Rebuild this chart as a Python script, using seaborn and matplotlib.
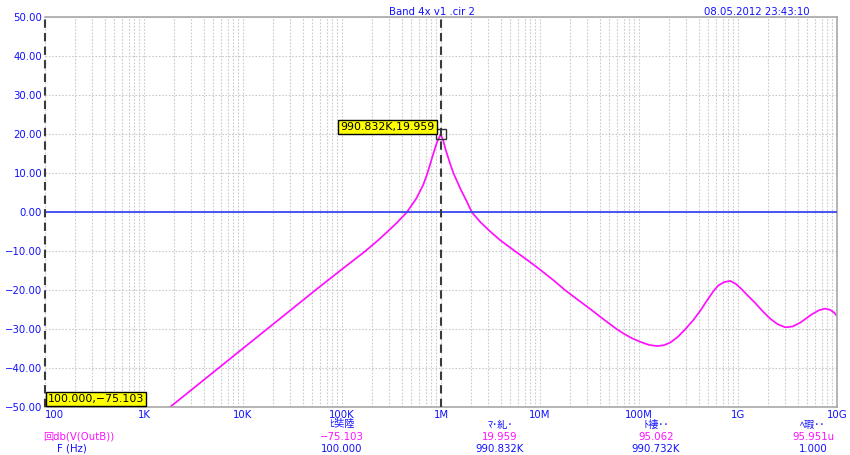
import matplotlib
matplotlib.use("Agg")
import matplotlib.pyplot as plt
import seaborn as sns
import pandas as pd
from matplotlib.ticker import LogLocator, NullFormatter, FixedLocator

# ---- data (log10 of frequency in Hz, gain in dB) ----
log_freq = [2.0, 3.0, 3.26, 3.75, 4.24, 4.73, 5.0, 5.234, 5.35, 5.45, 5.55,
            5.655, 5.75, 5.82, 5.863, 5.92, 5.96, 5.996,
            6.02, 6.05, 6.09, 6.126, 6.2, 6.25, 6.312, 6.4, 6.5, 6.6, 6.749,
            6.88, 7.0, 7.13, 7.255, 7.38, 7.507, 7.65, 7.777, 7.85, 7.93, 8.01,
            8.1, 8.181, 8.25, 8.316, 8.39, 8.467, 8.55, 8.62, 8.69, 8.753, 8.8,
            8.86, 8.922, 8.98, 9.04, 9.1, 9.175, 9.25, 9.326, 9.4, 9.478, 9.55,
            9.629, 9.7, 9.75, 9.82, 9.88, 9.93, 9.97, 10.0]
gain_db = [-75.1, -55.1, -50.0, -40.0, -30.0, -20.0, -14.6, -10.0, -7.5, -5.2, -2.8,
           0.0, 3.5, 7.0, 10.0, 14.8, 18.0, 19.959,
           18.6, 15.8, 12.6, 10.0, 5.8, 3.3, 0.0, -2.6, -5.0, -7.2, -10.0,
           -12.4, -14.7, -17.3, -20.0, -22.4, -24.8, -27.6, -30.0, -31.2, -32.3, -33.2,
           -34.0, -34.3, -34.1, -33.4, -32.0, -30.0, -27.6, -25.2, -22.5, -20.2, -18.8,
           -17.9, -17.6, -18.4, -19.8, -21.4, -23.3, -25.4, -27.3, -28.7, -29.5, -29.3,
           -28.3, -27.0, -26.1, -25.1, -24.7, -25.0, -25.7, -26.6]

x_ticks = [1e2, 1e3, 1e4, 1e5, 1e6, 1e7, 1e8, 1e9, 1e10]
x_tick_labels = ["100", "1K", "10K", "100K", "1M", "10M", "100M", "1G", "10G"]
y_ticks = [-50, -40, -30, -20, -10, 0, 10, 20, 30, 40, 50]

cursor_left = (100.0, -75.103)
cursor_right = (990832.0, 19.959)

stat_headers = ["ﾋ奘陸", "ﾏ･糺･", "ﾄ褄･･", "ﾍ瑕･･"]
stat_y = ["\u221275.103", "19.959", "95.062", "95.951u"]
stat_x = ["100.000", "990.832K", "990.732K", "1.000"]
stat_cols_px = [342, 500, 656, 813]

title = "Band 4x v1 .cir 2"
stamp = "08.05.2012 23:43:10"

df = pd.DataFrame({"f": [10 ** v for v in log_freq], "db": gain_db})

# ---- style ----
sns.set_theme(style="white")
plt.rcParams["font.family"] = ["DejaVu Sans", "Noto Sans CJK JP"]
plt.rcParams["axes.unicode_minus"] = True

BLUE = "#1010ff"
MAG = "#ff10ff"
W, H = 850, 455
fs = 7.3

fig = plt.figure(figsize=(W / 100, H / 100), dpi=100)
ax = fig.add_axes([45 / W, 1 - 407.3 / H, (837 - 45) / W, (407.3 - 17.2) / H])

sns.lineplot(data=df, x="f", y="db", ax=ax, color=MAG, linewidth=1.25,
             estimator=None, sort=False)
ax.set_xscale("log")
ax.set_xlim(1e2, 1e10)
ax.set_ylim(-50, 50)

ax.xaxis.set_major_locator(FixedLocator(x_ticks))
ax.set_xticklabels(x_tick_labels)
ax.xaxis.set_minor_locator(LogLocator(base=10, subs=range(2, 10), numticks=100))
ax.xaxis.set_minor_formatter(NullFormatter())
ax.set_yticks(y_ticks)
ax.set_yticklabels([f"{v:.2f}".replace("-", "\u2212") for v in y_ticks])
ax.tick_params(axis="both", which="both", length=0, labelcolor=BLUE, labelsize=fs)
ax.tick_params(axis="x", pad=2)
ax.tick_params(axis="y", pad=2)
for lab in ax.get_xticklabels()[:1]:
    lab.set_horizontalalignment("left")
ax.set_xlabel("")
ax.set_ylabel("")

ax.grid(which="both", axis="x", color="#cacaca", linestyle=(0, (1.5, 1.5)), linewidth=0.8)
ax.grid(which="major", axis="y", color="#cacaca", linestyle=(0, (1.5, 1.5)), linewidth=0.8)

for side in ["top", "right", "bottom"]:
    ax.spines[side].set_color("#a8a8a8")
    ax.spines[side].set_linewidth(1.2)
ax.spines["left"].set_visible(False)

ax.axhline(0, color="#3a48f5", linewidth=1.3, zorder=3)

# cursors
ax.axvline(cursor_left[0], color="#3a3a3a", linestyle=(0, (4, 2.5)), linewidth=1.5, clip_on=False, zorder=4)
ax.axvline(cursor_right[0], color="#3a3a3a", linestyle=(0, (4, 2.5)), linewidth=1.5, zorder=4)
ax.plot([cursor_right[0]], [cursor_right[1]], marker="s", mfc="none", mec="#303030",
        ms=6.5, mew=1.0, zorder=5)

box = dict(boxstyle="square,pad=0.18", fc="#ffff00", ec="black", lw=1.0)
ax.annotate("990.832K,19.959", xy=cursor_right, xytext=(-6, 2), textcoords="offset pixels",
            ha="right", va="bottom", fontsize=7.9, color="black", bbox=box, zorder=6)
ax.annotate("100.000,\u221275.103", xy=(cursor_left[0], -50), xytext=(3, 3),
            textcoords="offset pixels", ha="left", va="bottom", fontsize=7.9,
            color="black", bbox=box, zorder=6, annotation_clip=False)

# figure texts
def ftxt(x, y, s, **kw):
    fig.text(x / W, 1 - y / H, s, fontsize=fs, va="center", **kw)

ftxt(432, 12, title, ha="center", color=BLUE)
ftxt(810, 12, stamp, ha="right", color=BLUE)
ftxt(43, 436.5, "回db(V(OutB))", ha="left", color=MAG)
ftxt(57, 448.5, "F (Hz)", ha="left", color=BLUE)
for cx, h, yv, xv in zip(stat_cols_px, stat_headers, stat_y, stat_x):
    ftxt(cx, 424.5, h, ha="center", color=BLUE)
    ftxt(cx, 436.5, yv, ha="center", color=MAG)
    ftxt(cx, 448.5, xv, ha="center", color=BLUE)

fig.savefig("out.png", dpi=100)
